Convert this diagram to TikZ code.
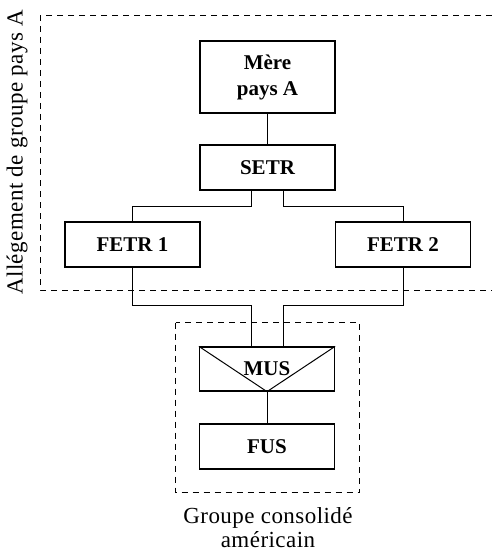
\documentclass[tikz,border=0pt]{standalone}
\usepackage{fontspec}
\setmainfont{Liberation Serif}
\newfontfamily\legende[LetterSpace=2.0]{Liberation Serif}
\usepackage{tikz}
\usetikzlibrary{positioning}

\tikzset{
	entite/.style={draw, line width=0.6pt, minimum width=67.5pt, inner sep=0pt, font=\fontsize{10.5}{13}\selectfont\bfseries, align=center},
	texte/.style={font=\legende\fontsize{11.5}{12}\selectfont},
	groupe/.style={draw, line width=0.5pt, dash pattern=on 3pt off 2.5pt},
	lien/.style={line width=0.5pt}
}

\begin{document}
\begin{tikzpicture}[x=0.5pt, y=-0.5pt]
		\useasboundingbox (0,0) rectangle (492,551);

		\node[entite, minimum height=36pt] (mere) at (267.5, 77) {Mère\\pays A};
		\node[entite, minimum height=22.5pt] (setr) at (267.5, 167.5) {SETR};
		\node[entite, minimum height=22.5pt] (fetr1) at (132.5, 244.5) {FETR 1};
		\node[entite, minimum height=22.5pt] (fetr2) at (403, 244.5) {FETR 2};
		\node[entite, minimum height=22pt] (mus) at (267, 369) {MUS};
		\node[entite, minimum height=22.5pt] (fus) at (267, 446.5) {FUS};

		\node[texte, rotate=90] (allegement) at (17, 152.5) {Allégement de groupe pays A};
		\node[texte, align=center] (consolide) at (268, 528) {Groupe consolidé\\américain};

		% perimetres
		\draw[groupe] (492, 16) -- (40, 16) -- (40, 290) -- (492, 290);
		\draw[groupe] (175.5, 322.5) rectangle (359.5, 492.5);

		% liens
		\draw[lien] (mere) -- (setr);
		\draw[lien] ([xshift=-8pt]setr.south) -- ++(0, 16) -| (fetr1.north);
		\draw[lien] ([xshift=8pt]setr.south) -- ++(0, 16) -| (fetr2.north);
		\draw[lien] (fetr1.south) -- ++(0, 38) -| ([xshift=-8pt]mus.north);
		\draw[lien] (fetr2.south) -- ++(0, 38) -| ([xshift=8pt]mus.north);
		\draw[lien] (mus.north west) -- (mus.south) -- (mus.north east);
		\draw[lien] (mus) -- (fus);
	\end{tikzpicture}
\end{document}
